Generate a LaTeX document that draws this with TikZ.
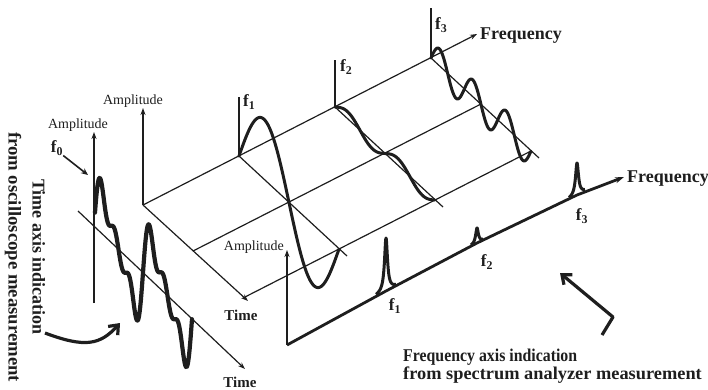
\documentclass[tikz,border=0pt]{standalone}
\usepackage{fontspec}
\setmainfont{Liberation Serif}
\usepackage{tikz}
\usetikzlibrary{arrows.meta,positioning}
\definecolor{InkGray}{RGB}{30, 30, 30}
\tikzset{
  axisline/.style={draw=InkGray, line width=1.2pt},
  axisarrow/.style={axisline, -{Stealth[length=7pt, width=5pt]}},
  waveline/.style={draw=InkGray, line width=3pt, line join=round, line cap=round},
  spikeline/.style={draw=InkGray, line width=3pt, line join=round},
  ampl/.style={font=\fontsize{14}{16}\selectfont, text=InkGray, inner sep=0pt},
  boldlbl/.style={font=\fontsize{18}{18}\selectfont\bfseries, text=InkGray, inner sep=0pt},
  timelbl/.style={font=\fontsize{15}{15}\selectfont\bfseries, text=InkGray, inner sep=0pt},
  flbl/.style={font=\fontsize{17}{17}\selectfont\bfseries, text=InkGray, inner sep=0pt},
  hookarrow/.style={draw=InkGray, line width=3.2pt, line join=round, -{Straight Barb[length=8pt, width=13pt]}}
}

\begin{document}
\begin{tikzpicture}[x=1pt, y=-1pt]
\useasboundingbox (0,0) rectangle (708,389);

% time-frequency frame
\coordinate (O) at (143,205);
\coordinate (f1) at (239,156);
\coordinate (f2) at (335,107);
\coordinate (f3) at (431,58);
\coordinate (ampTop) at (143,108);
\coordinate (freqEnd) at (477,34);
\coordinate (timeEnd) at (248,301);
\coordinate (tHalf) at (193,251);
\coordinate (tFull) at (243,298);

\draw[axisarrow] (O) -- (ampTop);
\draw[axisarrow] (O) -- (freqEnd);
\draw[axisarrow] (O) -- (timeEnd);
\foreach \n/\h in {f1/59, f2/47, f3/50} {
  \draw[axisline] (\n) -- ++(108,100);
  \draw[axisline] (\n) -- ++(0,-\h);
}
\draw[axisline] (tHalf) -- ++(288,-147);
\draw[axisline] (tFull) -- ++(288,-147);

\node[ampl] (amp3d) at (133,101) {Amplitude};
\node[timelbl] (time3d) at (241,315) {Time};
\node[boldlbl, anchor=base west] (freqTop) at (480,39) {Frequency};
\node[flbl, anchor=west] (lf1) at (243,102) {f\textsubscript{1}};
\node[flbl, anchor=west] (lf2) at (340,67) {f\textsubscript{2}};
\node[flbl, anchor=west] (lf3) at (435,25) {f\textsubscript{3}};

% sine components
\draw[waveline, domain=0:1, samples=80] plot ({239+100*\x},{156+93*\x-60*sin(360*\x)});
\draw[waveline, domain=0:1, samples=80] plot ({335+100*\x},{107+93*\x-7*sin(720*\x)});
\draw[waveline, domain=0:1, samples=120] plot ({431+100*\x},{58+93*\x-17*sin(1080*\x)});

% oscilloscope view
\coordinate (ltStart) at (78,211);
\coordinate (ltEnd) at (245,369);
\coordinate (laBot) at (94,303);
\coordinate (laTop) at (94,132);
\draw[axisarrow] (laBot) -- (laTop);
\draw[axisarrow] (ltStart) -- (ltEnd);
\draw[waveline, line width=4.2pt, domain=0.01:1, samples=160]
  plot ({94+98*\x},{226+93*\x-36*(sin(720*\x)+0.5*sin(1440*\x)+0.4*sin(2160*\x))});
\node[ampl] (ampLeft) at (78,125) {Amplitude};
\node[flbl] (lf0) at (57,148) {f\textsubscript{0}};
\coordinate (f0Tip) at (88,175);
\draw[InkGray, line width=1.6pt, -{Stealth[length=7pt, width=6pt]}] (lf0.south east) -- (f0Tip);
\node[timelbl] (timeLeft) at (240,382) {Time};
\node[font=\fontsize{18}{24}\selectfont\bfseries, text=InkGray, inner sep=0pt, rotate=-90, align=center] (oscText) at (25,257)
  {Time axis indication\\\scalebox{1.04}[1]{from oscilloscope measurement}};
\coordinate (crvTail) at (45,333);
\coordinate (crvTip) at (120,323);
\draw[hookarrow] (crvTail) .. controls (85,348) and (100,345) .. (crvTip);

% spectrum analyzer view
\coordinate (S0) at (287,345);
\coordinate (sAmpTop) at (287,250);
\coordinate (sf1) at (386,291);
\coordinate (sf2) at (477,243);
\coordinate (sf3) at (577,195);
\coordinate (sEnd) at (624,177);
\draw[axisarrow] (S0) -- (sAmpTop);
\draw[InkGray, line width=2.8pt, line join=round, -{Stealth[length=9pt, width=6pt]}] (S0) -- (sf1) -- (sf2) -- (sf3) -- (sEnd);
\draw[spikeline, domain=-10:10, samples=81] plot ({386+\x},{291-0.5*\x-53/(1+(\x/1.8)*(\x/1.8))});
\draw[spikeline, domain=-6:6, samples=61] plot ({477+\x},{243-0.5*\x-15/(1+(\x/1.6)*(\x/1.6))});
\draw[spikeline, domain=-8:8, samples=81] plot ({577+\x},{195-0.5*\x-32/(1+(\x/1.8)*(\x/1.8))});
\node[ampl, anchor=east] (ampLow) at (284,247) {Amplitude};
\node[boldlbl, anchor=base west] (freqLow) at (627,182) {Frequency};
\node[flbl] (sl1) at (395,306) {f\textsubscript{1}};
\node[flbl] (sl2) at (487,262) {f\textsubscript{2}};
\node[flbl] (sl3) at (582,216) {f\textsubscript{3}};

\coordinate (hkTail) at (602,335);
\coordinate (hkBend) at (613,317);
\coordinate (hkTip) at (560,273);
\draw[hookarrow] (hkTail) -- (hkBend) -- (hkTip);
\node[font=\fontsize{18}{15}\selectfont\bfseries, text=InkGray, inner sep=0pt, anchor=north west, align=left] (specText) at (403,349)
  {\scalebox{0.88}[1]{Frequency axis indication}\\\scalebox{1.02}[1]{from spectrum analyzer measurement}};
\end{tikzpicture}
\end{document}
